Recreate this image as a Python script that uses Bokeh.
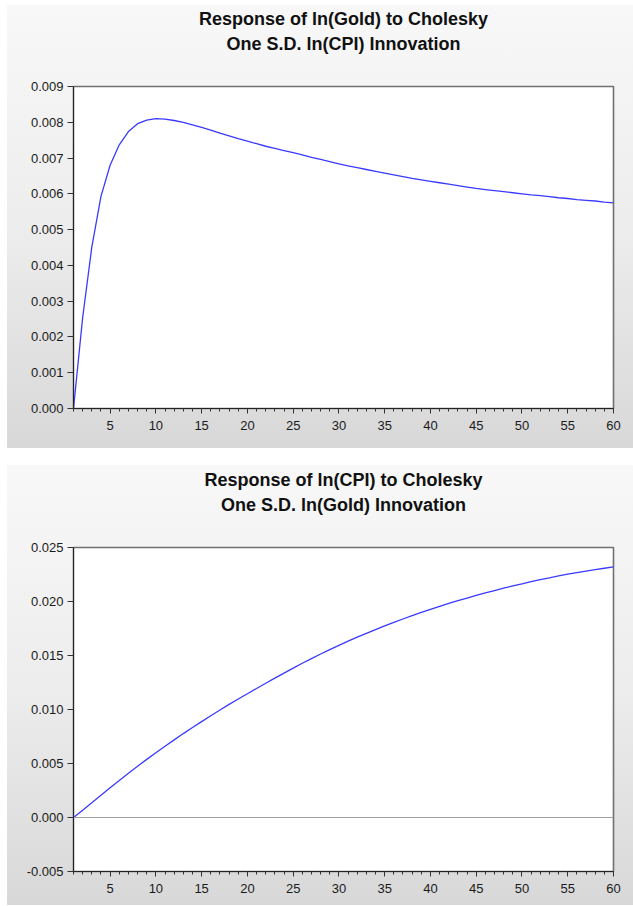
from bokeh.plotting import figure
from bokeh.layouts import column, row
from bokeh.models import (Range1d, FixedTicker, NumeralTickFormatter, Span, Title,
                          LinearAxis, Spacer)
from bokeh.embed import file_html
from bokeh.resources import INLINE

# ---------------- data ----------------
periods = list(range(1, 61))

gold_to_cpi = [
    0.0, 0.00254, 0.00451, 0.00593, 0.00680, 0.00737, 0.00774, 0.00796, 0.00806, 0.00810,
    0.00809, 0.00805, 0.00800, 0.00793, 0.00786, 0.00778, 0.00770, 0.00762, 0.00754, 0.00747,
    0.00740, 0.00733, 0.00727, 0.00721, 0.00715, 0.00709, 0.00702, 0.00696, 0.00690, 0.00684,
    0.00678, 0.00673, 0.00668, 0.00663, 0.00658, 0.00653, 0.00648, 0.00643, 0.00639, 0.00635,
    0.00631, 0.00627, 0.00623, 0.00619, 0.00615, 0.00612, 0.00609, 0.00606, 0.00603, 0.00600,
    0.00597, 0.00595, 0.00592, 0.00589, 0.00587, 0.00584, 0.00582, 0.00580, 0.00577, 0.00575,
]

cpi_to_gold = [
    0.0, 0.00068, 0.00137, 0.00206, 0.00275, 0.00343, 0.00410, 0.00475, 0.00538, 0.00600,
    0.00660, 0.00719, 0.00777, 0.00833, 0.00888, 0.00942, 0.00995, 0.01047, 0.01097, 0.01146,
    0.01194, 0.01243, 0.01290, 0.01337, 0.01383, 0.01428, 0.01471, 0.01514, 0.01555, 0.01594,
    0.01633, 0.01670, 0.01705, 0.01740, 0.01774, 0.01807, 0.01838, 0.01869, 0.01899, 0.01927,
    0.01955, 0.01982, 0.02007, 0.02032, 0.02056, 0.02079, 0.02101, 0.02123, 0.02144, 0.02163,
    0.02183, 0.02202, 0.02219, 0.02237, 0.02254, 0.02268, 0.02282, 0.02295, 0.02308, 0.02320,
]

x_major = [5, 10, 15, 20, 25, 30, 35, 40, 45, 50, 55, 60]
y_ticks_top = [0.000, 0.001, 0.002, 0.003, 0.004, 0.005, 0.006, 0.007, 0.008, 0.009]
y_ticks_bottom = [-0.005, 0.000, 0.005, 0.010, 0.015, 0.020, 0.025]

title_top = ["Response of ln(Gold) to Cholesky", "One S.D. ln(CPI) Innovation"]
title_bottom = ["Response of ln(CPI) to Cholesky", "One S.D. ln(Gold) Innovation"]

FONT = "Liberation Sans"
LINE_COLOR = "#3a3aff"


def title_line(text, standoff):
    return Title(text=text, align="center", text_font=FONT, text_font_size="18px",
                 text_font_style="bold", text_color="#111111", standoff=standoff)


def make_panel(titles, y, yticks, yr, width, height, borders, zero_line=False):
    left, right, top, bottom = borders
    p = figure(width=width, height=height, output_backend="svg", toolbar_location=None,
               x_range=Range1d(1, 60), y_range=Range1d(*yr),
               min_border_left=left, min_border_right=right,
               min_border_top=top, min_border_bottom=bottom)

    xa = p.below[0]
    ya = p.left[0]

    # blank spacer axis between the frame and the title lines (one blank label keeps its size)
    gap = LinearAxis(ticker=FixedTicker(ticks=[30], minor_ticks=[]),
                     major_label_overrides={30: " "},
                     axis_line_color=None, major_tick_line_color=None,
                     minor_tick_line_color=None, major_tick_in=0, major_tick_out=0,
                     minor_tick_in=0, minor_tick_out=0, major_label_standoff=13,
                     major_label_text_font=FONT, major_label_text_font_size="13px")
    p.add_layout(gap, "above")
    p.add_layout(title_line(titles[1], 4), "above")   # second line, nearer the frame
    p.title = title_line(titles[0], 2)                 # first line, outermost

    p.border_fill_color = None
    p.styles = {"background": "linear-gradient(to bottom, #f8f8f8 0%, #ededed 50%, #d8d8d8 100%)"}
    p.background_fill_color = "white"
    p.outline_line_color = "#707070"
    p.outline_line_width = 1.6
    p.xgrid.visible = False
    p.ygrid.visible = False

    if zero_line:
        p.add_layout(Span(location=0, dimension="width", line_color="#a0a0a0", line_width=1.2))

    p.line(periods, y, line_color=LINE_COLOR, line_width=1.3)

    xa.ticker = FixedTicker(ticks=x_major, minor_ticks=periods)
    xa.axis_line_color = "#222222"
    xa.major_tick_in = 0
    xa.major_tick_out = 5
    xa.minor_tick_in = 0
    xa.minor_tick_out = 3
    xa.major_tick_line_color = "#333333"
    xa.minor_tick_line_color = "#333333"
    xa.major_label_standoff = 7
    xa.major_label_text_font = FONT
    xa.major_label_text_font_size = "13px"
    xa.major_label_text_color = "#1a1a1a"

    ya.ticker = FixedTicker(ticks=yticks, minor_ticks=[])
    ya.formatter = NumeralTickFormatter(format="0.000")
    ya.axis_line_color = "#222222"
    ya.major_tick_in = 0
    ya.major_tick_out = 6
    ya.minor_tick_out = 0
    ya.major_tick_line_color = "#333333"
    ya.major_label_standoff = 4
    ya.major_label_text_font = FONT
    ya.major_label_text_font_size = "13px"
    ya.major_label_text_color = "#1a1a1a"
    return p


p1 = make_panel(title_top, gold_to_cpi, y_ticks_top, (0.0, 0.009),
                626, 443, (64, 16, 75, 40))
p2 = make_panel(title_bottom, cpi_to_gold, y_ticks_bottom, (-0.005, 0.025),
                626, 440, (66, 20, 82, 34), zero_line=True)

layout = row(Spacer(width=7),
             column(Spacer(height=5), p1, Spacer(height=17), p2, spacing=0),
             spacing=0)

open("out.html", "w").write(file_html(layout, INLINE))
